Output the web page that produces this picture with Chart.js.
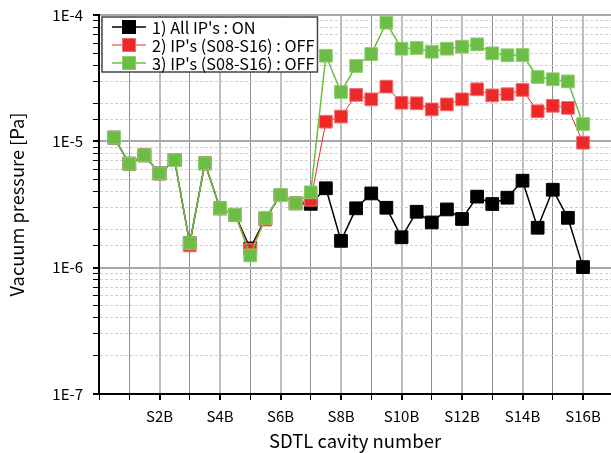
<!DOCTYPE html>
<html>
<head>
<meta charset="utf-8">
<script src="https://cdn.jsdelivr.net/npm/chart.js@4"></script>
<style>
  html, body { margin: 0; padding: 0; background: #fff; }
  #wrap { width: 611px; height: 453px; }
</style>
</head>
<body>
<div id="wrap"><canvas id="vacChart" width="611" height="453"></canvas></div>
<script>
// cavities: S1A, S1B, ... S16B
const categories = ['S1A','S1B','S2A','S2B','S3A','S3B','S4A','S4B','S5A','S5B','S6A','S6B','S7A','S7B','S8A','S8B',
                    'S9A','S9B','S10A','S10B','S11A','S11B','S12A','S12B','S13A','S13B','S14A','S14B','S15A','S15B','S16A','S16B'];
const xTickLabels = ['S2B','S4B','S6B','S8B','S10B','S12B','S14B','S16B'];
const yTickLabels = ['1E-7','1E-6','1E-5','1E-4'];

const seriesNames = ["1) All IP's : ON", "2) IP's (S08-S16) : OFF", "3) IP's (S08-S16) : OFF"];

const allOn = [1.07e-5, 6.65e-6, 7.75e-6, 5.57e-6, 7.1e-6, 1.56e-6, 6.7e-6, 2.95e-6, 2.62e-6, 1.42e-6, 2.45e-6, 3.76e-6, 3.23e-6, 3.2e-6, 4.25e-6, 1.63e-6,
               2.95e-6, 3.87e-6, 2.98e-6, 1.74e-6, 2.77e-6, 2.28e-6, 2.89e-6, 2.43e-6, 3.65e-6, 3.19e-6, 3.58e-6, 4.88e-6, 2.07e-6, 4.14e-6, 2.48e-6, 1.01e-6];
const offRed = [1.07e-5, 6.65e-6, 7.75e-6, 5.57e-6, 7.1e-6, 1.5e-6, 6.7e-6, 2.95e-6, 2.62e-6, 1.38e-6, 2.4e-6, 3.76e-6, 3.23e-6, 3.45e-6, 1.43e-5, 1.57e-5,
                2.33e-5, 2.15e-5, 2.71e-5, 2.02e-5, 2.0e-5, 1.79e-5, 1.96e-5, 2.15e-5, 2.58e-5, 2.31e-5, 2.36e-5, 2.55e-5, 1.73e-5, 1.91e-5, 1.84e-5, 9.75e-6];
const offGreen = [1.07e-5, 6.65e-6, 7.75e-6, 5.57e-6, 7.1e-6, 1.56e-6, 6.7e-6, 2.95e-6, 2.62e-6, 1.25e-6, 2.48e-6, 3.76e-6, 3.23e-6, 3.95e-6, 4.76e-5, 2.46e-5,
                  3.95e-5, 4.91e-5, 8.69e-5, 5.41e-5, 5.48e-5, 5.12e-5, 5.41e-5, 5.61e-5, 5.86e-5, 4.97e-5, 4.8e-5, 4.82e-5, 3.23e-5, 3.1e-5, 2.98e-5, 1.37e-5];

const FONT = '"Noto Sans CJK JP", "DejaVu Sans", sans-serif';

function toPoints(vals) {
  return vals.map((v, i) => ({ x: i, y: v }));
}

function isDecade(v) {
  const e = Math.log10(v);
  return Math.abs(e - Math.round(e)) < 1e-6;
}

const colors = [
  { line: '#000000', fill: '#000000', edge: '#000000', w: 1.5 },
  { line: '#ee2828', fill: '#ee2828', edge: '#f07070', w: 1 },
  { line: '#6cbd45', fill: '#6cbd45', edge: '#8ccf6c', w: 1.5 }
];

// boxed legend in the top-left corner of the plot: line + square sample, then label
const boxLegend = {
  id: 'boxLegend',
  afterDraw(chart) {
    const ctx = chart.ctx;
    const area = chart.chartArea;
    const x0 = area.left + 3, y0 = area.top + 2;
    const rowH = 18;
    ctx.save();
    ctx.font = '16.3px ' + FONT;
    const sets = chart.data.datasets;
    let tw = 0;
    sets.forEach(ds => { tw = Math.max(tw, ctx.measureText(ds.label).width); });
    const w = 50 + tw + 3, h = rowH * sets.length + 1;
    ctx.fillStyle = '#fff';
    ctx.fillRect(x0, y0, w, h);
    ctx.strokeStyle = '#444';
    ctx.lineWidth = 1.5;
    ctx.strokeRect(x0, y0, w, h);
    sets.forEach((ds, i) => {
      const c = colors[i];
      const cy = y0 + 10 + i * rowH;
      ctx.strokeStyle = c.line;
      ctx.lineWidth = c.w;
      ctx.beginPath(); ctx.moveTo(x0 + 10, cy); ctx.lineTo(x0 + 44, cy); ctx.stroke();
      ctx.fillStyle = c.fill;
      ctx.fillRect(x0 + 20.5, cy - 6.5, 13, 13);
      ctx.strokeStyle = c.edge; ctx.lineWidth = 1;
      ctx.strokeRect(x0 + 20.5, cy - 6.5, 13, 13);
      ctx.fillStyle = '#000';
      ctx.textBaseline = 'middle';
      ctx.textAlign = 'left';
      ctx.fillText(ds.label, x0 + 50, cy + 1);
    });
    ctx.restore();
  }
};

const CHART = document.getElementById('vacChart');

let vacChart = new Chart(CHART, {
  type: 'line',
  data: {
    datasets: [allOn, offRed, offGreen].map((vals, k) => ({
      label: seriesNames[k],
      data: toPoints(vals),
      borderColor: colors[k].line,
      borderWidth: colors[k].w,
      backgroundColor: colors[k].fill,
      pointBackgroundColor: colors[k].fill,
      pointBorderColor: colors[k].edge,
      pointBorderWidth: 1,
      pointStyle: 'rect',
      pointRadius: 9,
      pointHoverRadius: 9,
      tension: 0,
      order: 2 - k
    }))
  },
  plugins: [boxLegend],
  options: {
    responsive: false,
    animation: false,
    events: [],
    layout: { autoPadding: false, padding: { top: 15, right: 0, left: 0, bottom: 0 } },
    plugins: {
      tooltip: { enabled: false },
      legend: { display: false }
    },
    scales: {
      x: {
        type: 'linear',
        min: -1,
        max: 32.85,
        afterBuildTicks: (scale) => {
          const t = [];
          for (let v = -1; v <= 31; v += 2) t.push({ value: v });
          scale.ticks = t;
        },
        afterFit: (scale) => { scale.height = 59; },
        ticks: {
          autoSkip: false,
          maxRotation: 0,
          color: '#000',
          padding: 7,
          font: { family: FONT, size: 15 },
          callback: (v) => {
            const name = categories[v];
            return xTickLabels.includes(name) ? name : '';
          }
        },
        grid: {
          drawTicks: true,
          tickLength: 6,
          tickColor: '#000',
          color: (ctx) => {
            const v = ctx.tick ? ctx.tick.value : 0;
            if (v < 0) return 'rgba(0,0,0,0)';
            return xTickLabels.includes(categories[v]) ? '#bdbdbd' : '#8c8c8c';
          },
          lineWidth: (ctx) => {
            const v = ctx.tick ? ctx.tick.value : 0;
            return xTickLabels.includes(categories[v]) ? 2 : 1;
          }
        },
        border: { display: true, color: '#000', width: 2 },
        title: {
          display: true,
          text: 'SDTL cavity number',
          color: '#000',
          font: { family: FONT, size: 18.5 },
          padding: { top: 2, bottom: 1 }
        }
      },
      y: {
        type: 'logarithmic',
        min: 1e-7,
        max: 1e-4,
        afterFit: (scale) => {
          scale.width = 99;
          scale.paddingTop = 0;
          scale.paddingBottom = 0;
        },
        ticks: {
          autoSkip: false,
          color: '#000',
          padding: 10,
          font: { family: FONT, size: 15 },
          callback: (v) => {
            if (!isDecade(v)) return '';
            const e = Math.round(Math.log10(v));
            const lbl = '1E' + e;
            return yTickLabels.includes(lbl) ? lbl : '';
          }
        },
        grid: {
          drawTicks: true,
          tickLength: 6,
          tickColor: '#000',
          tickBorderDash: [],
          color: (ctx) => (ctx.tick && isDecade(ctx.tick.value)) ? '#a8a8a8' : '#cfcfcf',
          lineWidth: (ctx) => (ctx.tick && isDecade(ctx.tick.value)) ? 2 : 1
        },
        border: {
          display: true,
          color: '#000',
          width: 2,
          dash: (ctx) => (ctx.tick && isDecade(ctx.tick.value)) ? [] : [3, 2]
        },
        title: {
          display: true,
          text: 'Vacuum pressure [Pa]',
          color: '#000',
          font: { family: FONT, size: 18.3 },
          padding: { top: 6, bottom: 4 }
        }
      }
    }
  }
});
</script>
</body>
</html>
